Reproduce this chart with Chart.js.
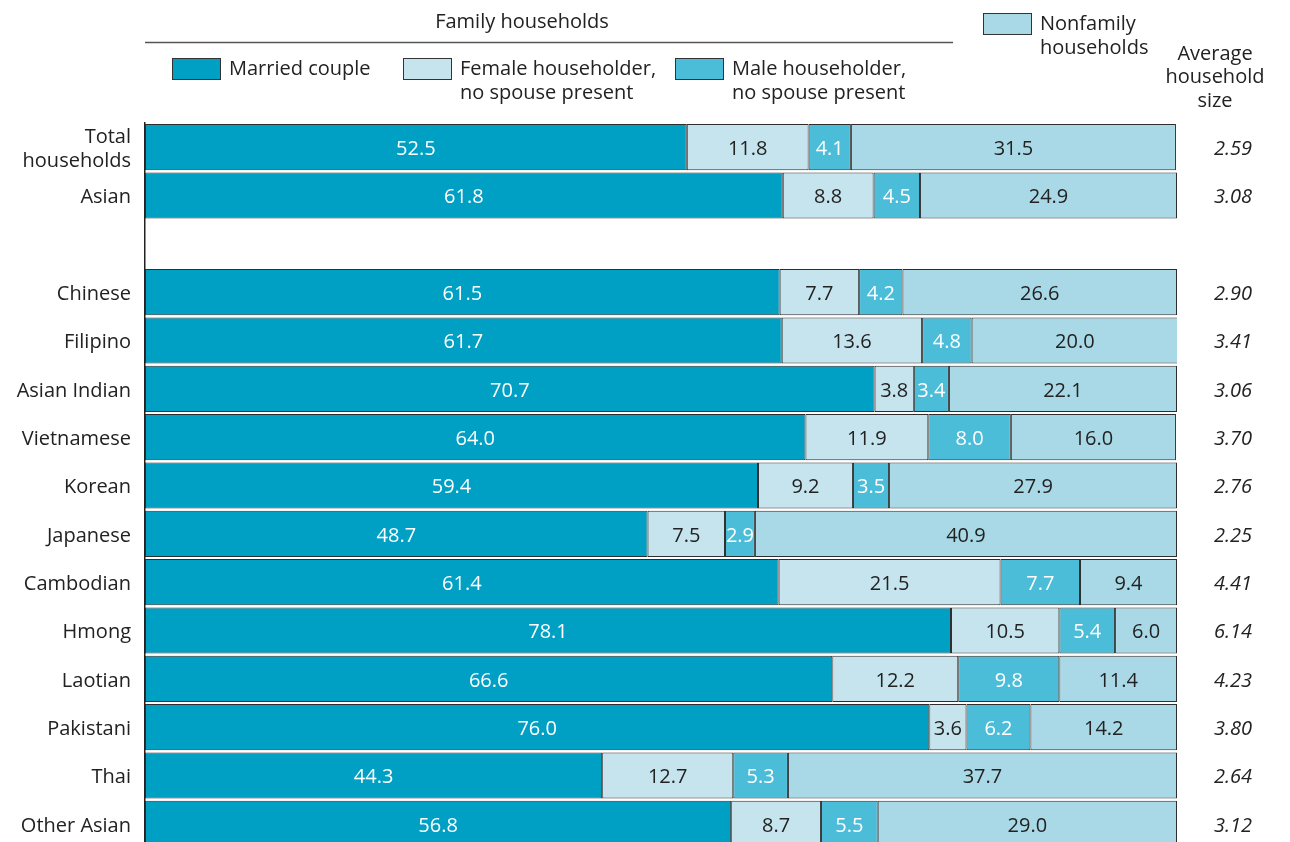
<!DOCTYPE html>
<html>
<head>
<meta charset="utf-8">
<script src="https://cdn.jsdelivr.net/npm/chart.js@4/dist/chart.umd.min.js"></script>
<style>
html,body{margin:0;padding:0;background:#fff;overflow:hidden;}
canvas{display:block;}
</style>
</head>
<body>
<canvas id="c" width="1290" height="848"></canvas>
<script>
const categories = [["Total","households"], "Asian", "", "Chinese", "Filipino", "Asian Indian", "Vietnamese", "Korean", "Japanese", "Cambodian", "Hmong", "Laotian", "Pakistani", "Thai", "Other Asian"];
const marriedCouple = [52.5, 61.8, null, 61.5, 61.7, 70.7, 64.0, 59.4, 48.7, 61.4, 78.1, 66.6, 76.0, 44.3, 56.8];
const femaleHouseholder = [11.8, 8.8, null, 7.7, 13.6, 3.8, 11.9, 9.2, 7.5, 21.5, 10.5, 12.2, 3.6, 12.7, 8.7];
const maleHouseholder = [4.1, 4.5, null, 4.2, 4.8, 3.4, 8.0, 3.5, 2.9, 7.7, 5.4, 9.8, 6.2, 5.3, 5.5];
const nonfamily = [31.5, 24.9, null, 26.6, 20.0, 22.1, 16.0, 27.9, 40.9, 9.4, 6.0, 11.4, 14.2, 37.7, 29.0];
const avgHouseholdSize = ["2.59", "3.08", "", "2.90", "3.41", "3.06", "3.70", "2.76", "2.25", "4.41", "6.14", "4.23", "3.80", "2.64", "3.12"];
const seriesNames = ["Married couple", "Female householder, no spouse present", "Male householder, no spouse present", "Nonfamily households"];

const COLORS = ['#00a0c4', '#c5e4ee', '#4bbdd8', '#a9d9e6'];
const LABEL_COLORS = ['#ffffff', '#222222', '#ffffff', '#222222'];
const FONT = '"Open Sans", "Noto Sans", sans-serif';
const TEXT = '#222222';

const labelPlugin = {
  id: 'labels',
  afterDatasetsDraw(chart) {
    const ctx = chart.ctx;
    ctx.save();
    ctx.font = '20px ' + FONT;
    ctx.textAlign = 'center';
    ctx.textBaseline = 'middle';
    chart.data.datasets.forEach((ds, di) => {
      const meta = chart.getDatasetMeta(di);
      meta.data.forEach((bar, i) => {
        const v = ds.data[i];
        if (v == null) return;
        const p = bar.getProps(['x', 'y', 'base'], true);
        const cx = (p.x + p.base) / 2;
        ctx.fillStyle = LABEL_COLORS[di];
        ctx.fillText(v.toFixed(1), cx, p.y + 2);
      });
    });
    const y = chart.scales.y;
    ctx.font = 'italic 20px ' + FONT;
    ctx.fillStyle = TEXT;
    avgHouseholdSize.forEach((s, i) => {
      if (!s) return;
      ctx.fillText(s, 1233, y.getPixelForValue(i) + 2);
    });
    ctx.restore();
  },
  beforeDraw(chart) {
    const ctx = chart.ctx;
    ctx.save();
    ctx.font = '20px ' + FONT;
    ctx.fillStyle = TEXT;
    ctx.textBaseline = 'middle';
    ctx.textAlign = 'center';
    ctx.fillText('Family households', 522, 22);
    ctx.fillText('Average', 1215, 54);
    ctx.fillText('household', 1215, 77);
    ctx.fillText('size', 1215, 101);
    ctx.strokeStyle = '#555';
    ctx.lineWidth = 1.5;
    ctx.beginPath();
    ctx.moveTo(145, 42.5);
    ctx.lineTo(953, 42.5);
    ctx.stroke();
    const boxes = [
      [172, 58, 0, ['Married couple']],
      [403, 58, 1, ['Female householder,', 'no spouse present']],
      [675, 58, 2, ['Male householder,', 'no spouse present']],
      [983, 13, 3, ['Nonfamily', 'households']]
    ];
    ctx.textAlign = 'left';
    boxes.forEach(([bx, by, ci, lines]) => {
      ctx.fillStyle = COLORS[ci];
      ctx.fillRect(bx, by, 48, 21);
      ctx.strokeStyle = '#333';
      ctx.lineWidth = 1;
      ctx.strokeRect(bx + 0.5, by + 0.5, 48, 21);
      ctx.fillStyle = TEXT;
      lines.forEach((t, li) => ctx.fillText(t, bx + 57, by + 11 + li * 24));
    });
    ctx.restore();
  }
};

const datasets = [marriedCouple, femaleHouseholder, maleHouseholder, nonfamily].map((d, i) => ({
  label: seriesNames[i],
  data: d,
  backgroundColor: COLORS[i],
  borderColor: '#2e2e2e',
  borderWidth: 1,
  borderSkipped: false,
  barPercentage: 0.955,
  categoryPercentage: 1.0
}));

new Chart(document.getElementById('c'), {
  type: 'bar',
  data: { labels: categories, datasets },
  plugins: [labelPlugin],
  options: {
    indexAxis: 'y',
    responsive: false,
    animation: false,
    layout: { padding: { top: 123, right: 113, bottom: 0, left: 0 } },
    plugins: { legend: { display: false }, tooltip: { enabled: false } },
    scales: {
      x: { stacked: true, min: 0, max: 100, display: false },
      y: {
        stacked: true,
        grid: { display: false, drawTicks: false },
        border: { display: true, color: '#222', width: 1.5 },
        ticks: { color: TEXT, font: { family: FONT, size: 20 }, padding: 14, autoSkip: false, labelOffset: 2 },
        afterFit(scale) { scale.width = 145; scale.paddingBottom = 0; scale.paddingTop = 0; }
      }
    }
  }
});
</script>
</body>
</html>
